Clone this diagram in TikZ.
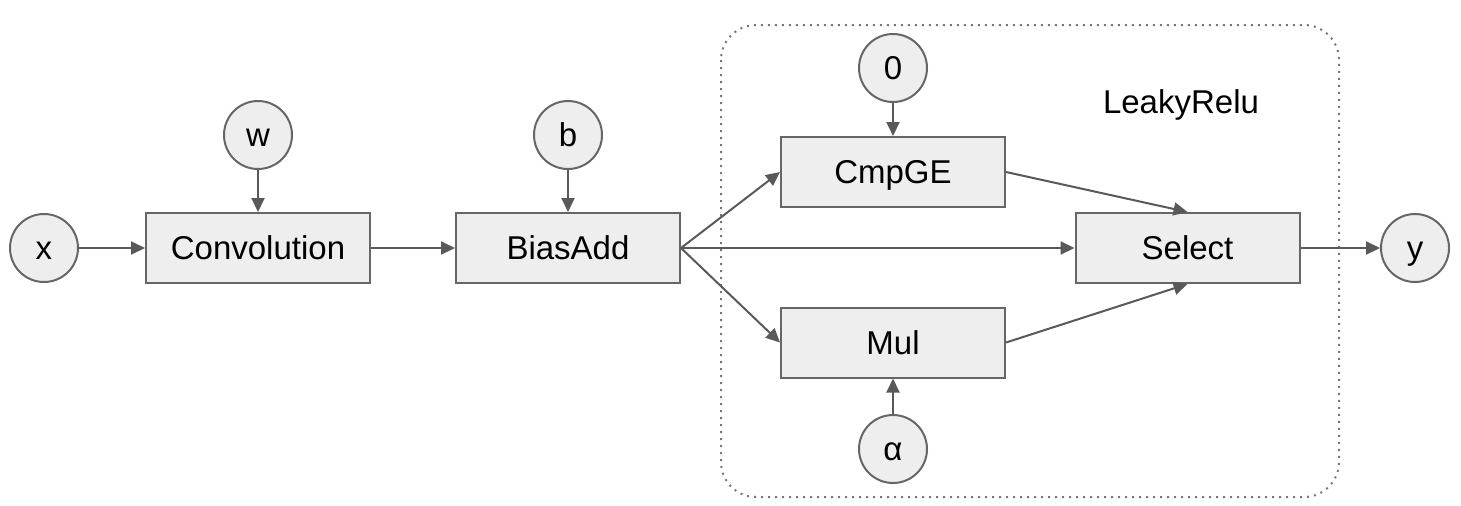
\documentclass[tikz,border=0pt]{standalone}
\usepackage{fontspec}
\setmainfont{Liberation Sans}
\usetikzlibrary{arrows.meta}
\definecolor{edgegray}{HTML}{595959}
\definecolor{bordergray}{HTML}{666666}
\definecolor{nodefill}{HTML}{EEEEEE}
\definecolor{dotgray}{HTML}{777777}
\begin{document}
\begin{tikzpicture}[x=0.5pt,y=-0.5pt,
  labelfont/.style={font=\fontsize{16.5}{19}\selectfont,text height=11.8pt,text depth=0pt},
  opbox/.style={labelfont,draw=bordergray,fill=nodefill,line width=1pt,minimum width=112pt,minimum height=35pt,inner sep=0pt},
  valnode/.style={labelfont,circle,draw=bordergray,fill=nodefill,line width=1pt,minimum size=34pt,inner sep=0pt},
  conn/.style={draw=edgegray,line width=1pt,-{Triangle[length=7pt,width=6.5pt]}},
  groupbox/.style={draw=dotgray,line width=1pt,dash pattern=on 1pt off 2.5pt,rounded corners=17.5pt}]
\useasboundingbox (0,0) rectangle (1461,505);
\draw[groupbox] (721,25) rectangle (1339,497);
\node[font=\fontsize{16.5}{19}\selectfont,anchor=base] (lr) at (1181,113) {LeakyRelu};
\node[valnode] (x) at (44,248) {x};
\node[valnode] (w) at (258,135) {w};
\node[opbox] (conv) at (258,248) {Convolution};
\node[valnode] (b) at (568,135) {b};
\node[opbox] (bias) at (568,248) {BiasAdd};
\node[valnode] (zero) at (893,68) {0};
\node[opbox] (cmp) at (893,172) {CmpGE};
\node[opbox] (mul) at (893,342.5) {Mul};
\node[valnode] (alpha) at (893,449) {α};
\node[opbox] (sel) at (1187.5,248) {Select};
\node[valnode] (y) at (1415,248) {y};
\draw[conn] (x) -- (conv);
\draw[conn] (w) -- (conv);
\draw[conn] (conv) -- (bias);
\draw[conn] (b) -- (bias);
\draw[conn] (bias.east) -- (cmp.west);
\draw[conn] (bias.east) -- (mul.west);
\draw[conn] (bias.east) -- (sel.west);
\draw[conn] (zero) -- (cmp);
\draw[conn] (alpha) -- (mul);
\draw[conn] (cmp.east) -- (sel.north);
\draw[conn] (mul.east) -- (sel.south);
\draw[conn] (sel) -- (y);
\end{tikzpicture}
\end{document}
